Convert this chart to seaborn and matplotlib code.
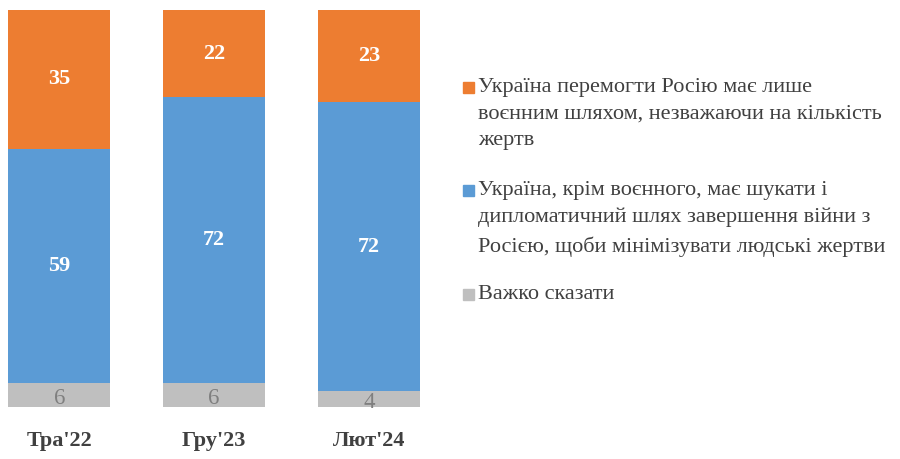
import pandas as pd
import numpy as np
import matplotlib
matplotlib.use("Agg")
import matplotlib.pyplot as plt
import seaborn as sns
from matplotlib.patches import Rectangle

# Data
periods = ["Тра'22", "Гру'23", "Лют'24"]
hard_to_say = [6, 6, 4]
diplomatic = [59, 72, 72]
military_only = [35, 22, 23]

labels = [
    "Україна перемогти Росію має лише\nвоєнним шляхом, незважаючи на кількість\nжертв",
    "Україна, крім воєнного, має шукати і\nдипломатичний шлях завершення війни з\nРосією, щоби мінімізувати людські жертви",
    "Важко сказати",
]

c_orange = "#ED7D31"
c_blue = "#5B9BD5"
c_gray = "#BFBFBF"
txt = "#404040"

sns.set_theme(style="white")
plt.rcParams['font.family'] = ['Liberation Serif', 'DejaVu Serif']

frame = pd.DataFrame({"period": periods, "gray": hard_to_say,
                      "blue": diplomatic, "orange": military_only})
# 100% stacked, like the source chart
total = frame[["gray", "blue", "orange"]].sum(axis=1)
frame["g_s"] = frame["gray"] / total * 100
frame["b_s"] = frame["blue"] / total * 100
frame["o_s"] = frame["orange"] / total * 100
frame["b2"] = frame["g_s"] + frame["b_s"]

fig = plt.figure(figsize=(9, 4.59), dpi=100)
ax = fig.add_axes([8 / 900, 52 / 459, 412 / 900, 397 / 459])

w = 0.662
sns.barplot(data=frame, x="period", y="g_s", color=c_gray, width=w, ax=ax,
            saturation=1, linewidth=0)
sns.barplot(data=frame, x="period", y="b_s", bottom=frame["g_s"], color=c_blue,
            width=w, ax=ax, saturation=1, linewidth=0)
sns.barplot(data=frame, x="period", y="o_s", bottom=frame["b2"], color=c_orange,
            width=w, ax=ax, saturation=1, linewidth=0)

for i, row in frame.iterrows():
    ax.text(i, row["g_s"] / 2 - 0.8, str(row["gray"]), ha="center", va="center",
            fontsize=16.5, color="#7F7F7F")
    ax.text(i, row["g_s"] + row["b_s"] / 2, str(row["blue"]), ha="center",
            va="center", fontsize=16, color="white", fontweight="bold")
    ax.text(i, row["b2"] + row["o_s"] / 2, str(row["orange"]), ha="center",
            va="center", fontsize=16, color="white", fontweight="bold")

ax.set_xlim(-w / 2, 2 + w / 2)
ax.set_ylim(0, 100)
ax.set_xlabel("")
ax.set_ylabel("")
ax.set_yticks([])
ax.tick_params(axis="x", length=0, pad=17)
for t in ax.get_xticklabels():
    t.set_fontsize(16)
    t.set_fontweight("bold")
    t.set_color(txt)
sns.despine(ax=ax, left=True, bottom=True)

# legend drawn by hand so the square sits on the first line
entries = [(labels[0], c_orange, 88), (labels[1], c_blue, 191), (labels[2], c_gray, 295)]
for lab, col, ypx in entries:
    fig.text(478 / 900, 1 - (ypx - 10) / 459, lab, ha="left", va="top",
             fontsize=16, color=txt, linespacing=1.55)
    fig.add_artist(Rectangle((463 / 900, 1 - (ypx + 5) / 459), 11 / 900, 11 / 459,
                             color=col, transform=fig.transFigure))

fig.savefig("out.png", dpi=100)
